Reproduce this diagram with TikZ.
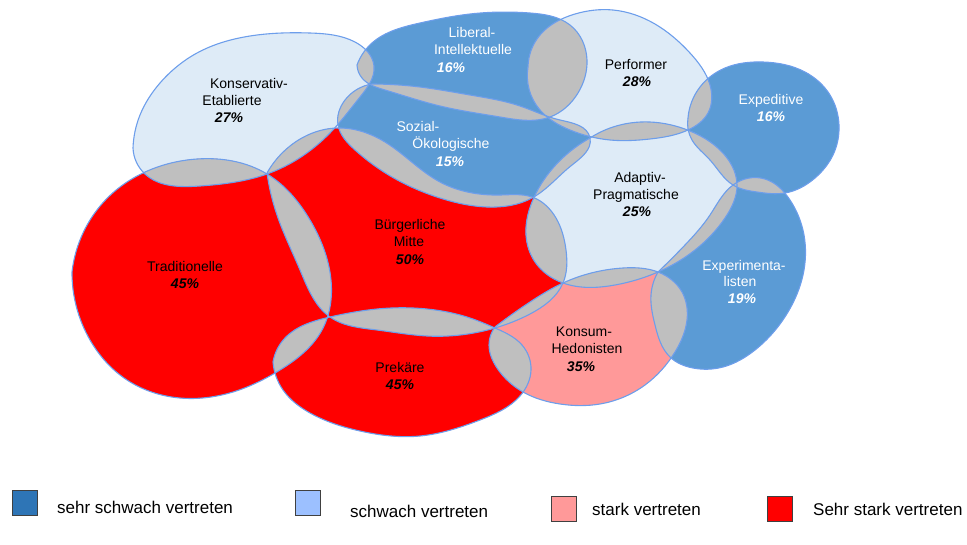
\documentclass[tikz,border=0pt]{standalone}
\usepackage{fontspec}
\setmainfont{Liberation Sans}
\usetikzlibrary{hobby}
\definecolor{lightc}{HTML}{DEEBF7}
\definecolor{midc}{HTML}{5B9BD5}
\definecolor{redc}{HTML}{FF0000}
\definecolor{pinkc}{HTML}{FF9999}
\definecolor{grayc}{HTML}{BFBFBF}
\definecolor{edgec}{HTML}{6D9EEB}
\definecolor{darkbluec}{HTML}{2E75B6}
\definecolor{paleblc}{HTML}{9CC0FF}
\def\shKE{(133,148) .. (140,115) .. (160,83) .. (197,53) .. (250,36) .. (310,33) .. (355,42) .. (374,66) .. (360,97) .. (330,133) .. (267,174) .. (200,186) .. (145,174) .. (133,148)}
\def\shTR{(72,272) .. (83,233) .. (115,191) .. (143,173) .. (197,159) .. (267,174) .. (310,220) .. (331,280) .. (322,330) .. (280,370) .. (233,392) .. (180,398) .. (127,380) .. (90,340) .. (72,272)}
\def\shBM{(267,173) .. (290,146) .. (337,128) .. (385,142) .. (440,182) .. (500,195) .. (532,197) .. (556,218) .. (566,250) .. (563,283) .. (530,314) .. (495,328) .. (427,336) .. (377,330) .. (330,317) .. (300,270) .. (277,215) .. (267,173)}
\def\shSO{(372,84) .. (420,87) .. (470,95) .. (520,106) .. (560,120) .. (590,138) .. (572,165) .. (532,198) .. (487,207) .. (440,198) .. (387,174) .. (355,150) .. (338,125) .. (345,100) .. (372,84)}
\def\shLI{(357,65) .. (372,43) .. (420,23) .. (470,14) .. (530,13) .. (570,25) .. (587,60) .. (578,93) .. (550,117) .. (500,117) .. (440,106) .. (385,90) .. (362,78) .. (357,65)}
\def\shPE{(528,67) .. (540,35) .. (575,14) .. (613,10) .. (655,24) .. (690,53) .. (710,85) .. (708,113) .. (688,130) .. (650,139) .. (610,140) .. (570,130) .. (540,110) .. (528,67)}
\def\shEX{(688,118) .. (700,87) .. (725,68) .. (763,62) .. (805,72) .. (830,95) .. (839,125) .. (833,155) .. (815,178) .. (785,193) .. (757,192) .. (733,185) .. (710,160) .. (692,140) .. (688,118)}
\def\shAP{(590,138) .. (613,127) .. (650,122) .. (690,131) .. (720,150) .. (737,185) .. (725,218) .. (695,250) .. (658,272) .. (615,285) .. (563,283) .. (535,262) .. (526,235) .. (532,202) .. (553,168) .. (590,138)}
\def\shEP{(658,272) .. (685,245) .. (710,215) .. (733,185) .. (765,179) .. (790,200) .. (804,235) .. (803,275) .. (788,312) .. (755,350) .. (723,367) .. (693,368) .. (670,357) .. (655,325) .. (651,295) .. (658,272)}
\def\shKH{(495,327) .. (530,302) .. (563,283) .. (623,268) .. (658,272) .. (682,292) .. (687,320) .. (675,352) .. (645,385) .. (600,404) .. (560,404) .. (523,392) .. (497,368) .. (489,345) .. (495,327)}
\def\shPR{(273,362) .. (285,338) .. (330,317) .. (377,309) .. (427,309) .. (470,318) .. (495,328) .. (522,345) .. (531,370) .. (520,396) .. (480,420) .. (420,436) .. (360,431) .. (310,413) .. (283,390) .. (273,362)}
\newcommand\ovlpair[2]{\begin{scope}\clip[closed hobby] #1; \fill[grayc, closed hobby] #2;\end{scope}}
\begin{document}
\begin{tikzpicture}[x=1pt,y=-1pt, use Hobby shortcut,
  lab/.style={font=\fontsize{14}{16}\selectfont, anchor=base, inner sep=0pt},
  pct/.style={font=\fontsize{14}{16}\selectfont\bfseries\itshape, anchor=base, inner sep=0pt},
  wt/.style={text=white},
  legbox/.style={draw=black!75, line width=0.8pt, minimum size=25pt, inner sep=0pt},
  legtext/.style={font=\fontsize{17}{19}\selectfont, anchor=base west, inner sep=0pt},
  edge/.style={draw=edgec, line width=1.1pt, closed hobby}]
\useasboundingbox (0,0) rectangle (967,544);
% fills
\fill[lightc, closed hobby] \shKE;
\fill[redc, closed hobby] \shTR;
\fill[redc, closed hobby] \shBM;
\fill[midc, closed hobby] \shSO;
\fill[midc, closed hobby] \shLI;
\fill[lightc, closed hobby] \shPE;
\fill[midc, closed hobby] \shEX;
\fill[lightc, closed hobby] \shAP;
\fill[midc, closed hobby] \shEP;
\fill[pinkc, closed hobby] \shKH;
\fill[redc, closed hobby] \shPR;
% overlaps
\ovlpair{\shKE}{\shLI}
\ovlpair{\shKE}{\shSO}
\ovlpair{\shKE}{\shBM}
\ovlpair{\shKE}{\shTR}
\ovlpair{\shLI}{\shSO}
\ovlpair{\shLI}{\shPE}
\ovlpair{\shPE}{\shSO}
\ovlpair{\shPE}{\shAP}
\ovlpair{\shPE}{\shEX}
\ovlpair{\shSO}{\shAP}
\ovlpair{\shSO}{\shBM}
\ovlpair{\shAP}{\shEX}
\ovlpair{\shAP}{\shEP}
\ovlpair{\shAP}{\shBM}
\ovlpair{\shAP}{\shKH}
\ovlpair{\shEX}{\shEP}
\ovlpair{\shEP}{\shKH}
\ovlpair{\shBM}{\shTR}
\ovlpair{\shBM}{\shPR}
\ovlpair{\shBM}{\shKH}
\ovlpair{\shTR}{\shPR}
\ovlpair{\shPR}{\shKH}
% outlines
\path[edge] \shKE;
\path[edge] \shTR;
\path[edge] \shBM;
\path[edge] \shSO;
\path[edge] \shLI;
\path[edge] \shPE;
\path[edge] \shEX;
\path[edge] \shAP;
\path[edge] \shEP;
\path[edge] \shKH;
\path[edge] \shPR;
% labels
\node[lab] (ke1) at (249,88) {Konservativ-};
\node[lab] (ke2) at (232,105) {Etablierte};
\node[pct] (ke3) at (229,122) {27\%};
\node[lab,wt] (li1) at (472,37) {Liberal-};
\node[lab,wt] (li2) at (473,54) {Intellektuelle};
\node[pct,wt] (li3) at (451,72) {16\%};
\node[lab] (pe1) at (636,69) {Performer};
\node[pct] (pe2) at (637,86) {28\%};
\node[lab,wt] (ex1) at (771,104) {Expeditive};
\node[pct,wt] (ex2) at (771,121) {16\%};
\node[lab,wt] (so1) at (418,131) {Sozial-};
\node[lab,wt] (so2) at (451,148) {Ökologische};
\node[pct,wt] (so3) at (450,166) {15\%};
\node[lab] (ap1) at (640,182) {Adaptiv-};
\node[lab] (ap2) at (636,199) {Pragmatische};
\node[pct] (ap3) at (637,216) {25\%};
\node[lab] (bm1) at (410,229) {Bürgerliche};
\node[lab] (bm2) at (409,246) {Mitte};
\node[pct] (bm3) at (410,264) {50\%};
\node[lab] (tr1) at (185,271) {Traditionelle};
\node[pct] (tr2) at (185,288) {45\%};
\node[lab] (pr1) at (400,372) {Prekäre};
\node[pct] (pr2) at (400,389) {45\%};
\node[lab] (kh1) at (584,336) {Konsum-};
\node[lab] (kh2) at (587,353) {Hedonisten};
\node[pct] (kh3) at (581,371) {35\%};
\node[lab,wt] (ep1) at (744,270) {Experimenta-};
\node[lab,wt] (ep2) at (740,286) {listen};
\node[pct,wt] (ep3) at (742,303) {19\%};
% legend
\node[legbox, fill=darkbluec] (lb1) at (24.5,503) {};
\node[legtext] (lt1) at (57,513) {sehr schwach vertreten};
\node[legbox, fill=paleblc] (lb2) at (307.5,503) {};
\node[legtext] (lt2) at (350,517) {schwach vertreten};
\node[legbox, fill=pinkc] (lb3) at (564,508.5) {};
\node[legtext] (lt3) at (592,515) {stark vertreten};
\node[legbox, fill=redc] (lb4) at (780,508.5) {};
\node[legtext] (lt4) at (813,515) {Sehr stark vertreten};
\end{tikzpicture}
\end{document}
